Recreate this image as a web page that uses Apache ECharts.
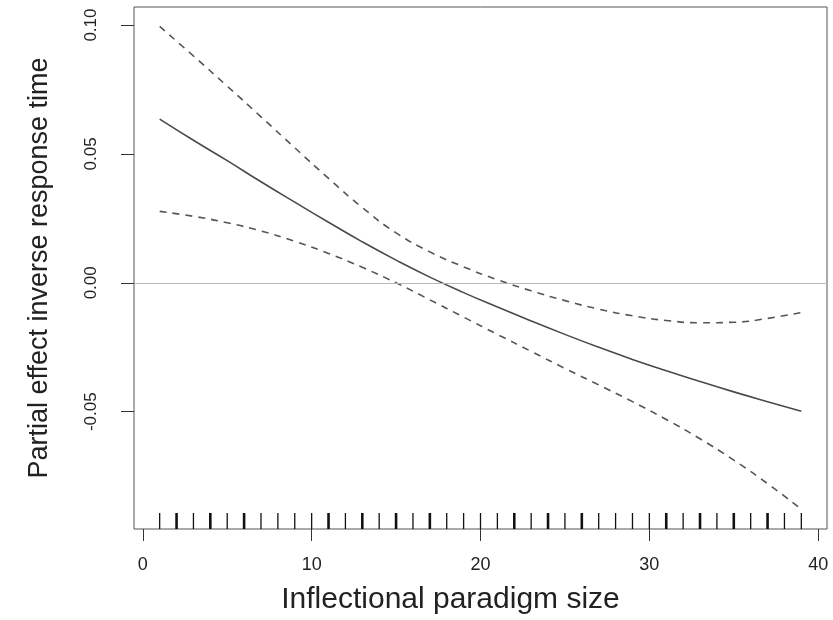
<!DOCTYPE html>
<html>
<head>
<meta charset="utf-8">
<script src="https://cdn.jsdelivr.net/npm/echarts@6/dist/echarts.min.js"></script>
<style>html,body{margin:0;padding:0;background:#fff}#c{width:833px;height:620px}</style>
</head>
<body>
<div id="c"></div>
<script>
// ---- data ----
const xs = [1, 3, 5, 7, 9, 11, 13, 15, 17, 19, 21, 23, 25, 27, 29, 31, 33, 35, 37, 39];
const fit = [0.0635, 0.0553, 0.0474, 0.0392, 0.0313, 0.0235, 0.0159, 0.0088, 0.0022, -0.0038,
             -0.0094, -0.0148, -0.0200, -0.0250, -0.0297, -0.0341, -0.0383, -0.0423, -0.0461, -0.0498];
const upper = [0.0995, 0.0880, 0.0763, 0.0644, 0.0524, 0.0405, 0.0292, 0.0194, 0.0120, 0.0062,
               0.0012, -0.0031, -0.0069, -0.0102, -0.0128, -0.0146, -0.0155, -0.0153, -0.0138, -0.0115];
const lower = [0.0277, 0.0258, 0.0233, 0.0201, 0.0161, 0.0114, 0.0060, 0.0000, -0.0066, -0.0133,
               -0.0200, -0.0266, -0.0332, -0.0396, -0.0461, -0.0530, -0.0605, -0.0688, -0.0779, -0.0878];
const rugX = [1, 2, 3, 4, 5, 6, 7, 8, 9, 10, 11, 12, 13, 14, 15, 16, 17, 18, 19, 20,
              21, 22, 23, 24, 25, 26, 27, 28, 29, 30, 31, 32, 33, 34, 35, 36, 37, 38, 39];
const rugDense = [2, 4, 6, 11, 13, 15, 17, 22, 24, 26, 31, 33, 35, 37];
const xTicks = [0, 10, 20, 30, 40];
const yTicks = [-0.05, 0, 0.05, 0.10];
const xTitle = 'Inflectional paradigm size';
const yTitle = 'Partial effect inverse response time';
const xMin = -0.52, xMax = 40.52, yMin = -0.0955, yMax = 0.107;

// ---- chart ----
const font = '"Liberation Sans", Arial, Helvetica, sans-serif';
const chart = echarts.init(document.getElementById('c'), null, {renderer: 'canvas'});
const pair = (a) => xs.map((x, i) => [x, a[i]]);

chart.setOption({
  animation: false,
  backgroundColor: '#fff',
  grid: {left: 134, top: 7, width: 693, height: 523, show: true, borderColor: '#555', borderWidth: 1, backgroundColor: 'transparent'},
  xAxis: {
    type: 'value', min: xMin, max: xMax,
    splitLine: {show: false},
    axisLine: {show: false, onZero: false},
    axisTick: {show: true, length: 12, customValues: xTicks, lineStyle: {color: '#333', width: 1}},
    axisLabel: {customValues: xTicks, margin: 27, fontSize: 18, color: '#222', fontFamily: font},
    name: xTitle, nameLocation: 'middle', nameGap: 56,
    nameTextStyle: {fontSize: 30, color: '#222', fontFamily: font, padding: [0, 60, 0, 0]}
  },
  yAxis: {
    type: 'value', min: yMin, max: yMax,
    splitLine: {show: false},
    axisLine: {show: false, onZero: false},
    axisTick: {show: true, length: 13, customValues: yTicks, lineStyle: {color: '#333', width: 1}},
    axisLabel: {customValues: yTicks, rotate: 90, margin: 34, fontSize: 17, color: '#222', fontFamily: font,
                formatter: (v) => v.toFixed(2)},
    name: yTitle, nameLocation: 'middle', nameGap: 81, nameRotate: 90,
    nameTextStyle: {fontSize: 27, color: '#222', fontFamily: font}
  },
  series: [
    {
      type: 'line', data: pair(fit), smooth: true, symbol: 'none',
      lineStyle: {color: '#4a4a4a', width: 1.6},
      markLine: {silent: true, symbol: 'none', label: {show: false},
                 lineStyle: {color: '#b8b8b8', width: 1, type: 'solid'},
                 data: [{yAxis: 0}]},
      z: 3
    },
    {type: 'line', data: pair(upper), smooth: true, symbol: 'none',
     lineStyle: {color: '#555', width: 1.6, type: [7, 6]}, z: 3},
    {type: 'line', data: pair(lower), smooth: true, symbol: 'none',
     lineStyle: {color: '#555', width: 1.6, type: [7, 6]}, z: 3},
    {
      type: 'custom', data: rugX.map(x => [x]), z: 4,
      renderItem: (params, api) => {
        const x = api.value(0);
        const p = api.coord([x, yMin]);
        const w = rugDense.indexOf(x) >= 0 ? 2.6 : 1.3;
        return {type: 'line', shape: {x1: p[0], y1: p[1], x2: p[0], y2: p[1] - 16},
                style: {stroke: '#111', lineWidth: w}};
      }
    }
  ]
});
</script>
</body>
</html>
